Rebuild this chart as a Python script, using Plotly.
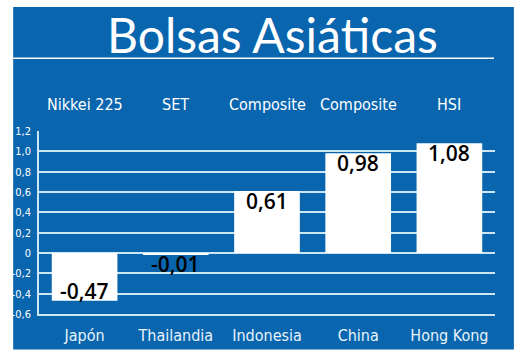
import plotly.graph_objects as go

countries = ["Japón", "Thailandia", "Indonesia", "China", "Hong Kong"]
indices = ["Nikkei 225", "SET", "Composite", "Composite", "HSI"]
changes = [-0.47, -0.01, 0.61, 0.98, 1.08]
tick_vals = [-0.6, -0.4, -0.2, 0, 0.2, 0.4, 0.6, 0.8, 1.0, 1.2]
tick_text = ["-0,6", "-0,4", "-0,2", "0", "0,2", "0,4", "0,6", "0,8", "1,0", "1,2"]

BLUE = "#0865ae"
GRID = "#cde6f6"
NARROW = "Liberation Sans Narrow, DejaVu Sans Condensed, Roboto, sans-serif"

W, H = 520, 357
L, R, T, B = 36, 25, 131, 40
pw, ph = W - L - R, H - T - B


def px_x(px):
    return (px - L) / pw


def px_y(py):
    return (H - B - py) / ph


fig = go.Figure()
fig.add_trace(go.Bar(
    x=countries, y=changes, width=0.72,
    marker=dict(color="white", line=dict(width=0)),
    hoverinfo="skip",
))

annotations = []
for c, v in zip(countries, changes):
    anchor = "top" if v > -0.1 else "bottom"
    annotations.append(dict(
        x=c, y=v, xref="x", yref="y",
        text=f"{v:.2f}".replace(".", ","),
        showarrow=False, yanchor=anchor,
        yshift=6 if anchor == "top" else -6,
        font=dict(family="Open Sans, sans-serif", size=21, color="black", weight=600),
    ))
for c, name in zip(countries, indices):
    annotations.append(dict(
        x=c, y=px_y(104), xref="x", yref="paper",
        text=name, showarrow=False, yanchor="middle",
        font=dict(family=NARROW, size=16, color="white"),
    ))
annotations.append(dict(
    x=px_x(271), y=px_y(33), xref="paper", yref="paper",
    text="Bolsas Asiáticas", showarrow=False, xanchor="center", yanchor="middle",
    font=dict(family="Lato, sans-serif", size=48, color="white"),
))

shapes = [
    dict(type="rect", xref="paper", yref="paper", layer="below",
         x0=px_x(10), x1=px_x(514), y0=px_y(353), y1=px_y(5),
         fillcolor=BLUE, line=dict(width=0)),
    dict(type="line", xref="paper", yref="paper",
         x0=px_x(10), x1=px_x(494), y0=px_y(57), y1=px_y(57),
         line=dict(color="white", width=1.5)),
]

fig.update_layout(
    width=W, height=H,
    margin=dict(l=L, r=R, t=T, b=B),
    paper_bgcolor="white",
    plot_bgcolor="rgba(0,0,0,0)",
    showlegend=False,
    annotations=annotations,
    shapes=shapes,
    xaxis=dict(
        showgrid=False, showline=True, linecolor=GRID, linewidth=1.5,
        ticks="", ticklabelstandoff=6,
        tickfont=dict(family=NARROW, size=16, color="#e8f3fb"),
        fixedrange=True,
    ),
    yaxis=dict(
        range=[-0.6, 1.2], tickvals=tick_vals, ticktext=tick_text,
        showgrid=True, gridcolor=GRID, gridwidth=1.5,
        zeroline=True, zerolinecolor=GRID, zerolinewidth=1.5,
        showline=True, linecolor=GRID, linewidth=1.5,
        ticks="", ticklabelstandoff=4,
        tickfont=dict(family=NARROW, size=11, color="white"),
        fixedrange=True,
    ),
)

fig.write_html(
    "out.html",
    config={"displayModeBar": False},
    post_script="document.body.style.margin='0';document.body.style.overflow='hidden';",
)
